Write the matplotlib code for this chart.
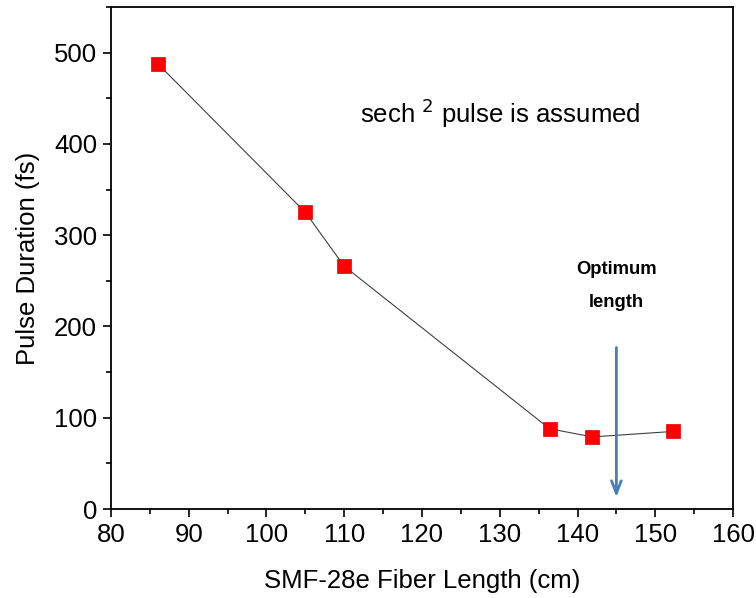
import matplotlib
matplotlib.use("Agg")
import matplotlib.pyplot as plt
from matplotlib.ticker import MultipleLocator

plt.rcParams['font.family'] = ['Liberation Sans', 'DejaVu Sans']

fiber_length = [86.0, 105.0, 110.0, 136.4, 141.9, 152.3]
pulse_duration = [488, 325, 266, 88, 79, 85]
arrow_x = 145
arrow_y_start = 180
arrow_y_end = 10

fig = plt.figure(figsize=(7.56, 5.98), dpi=100)
ax = fig.add_axes([0.1468, 0.1488, 0.8228, 0.8395])

ax.plot(fiber_length, pulse_duration, color='#404040', lw=0.8, zorder=2)
ax.plot(fiber_length, pulse_duration, ls='none', marker='s', ms=10,
        mfc='#ff0000', mec='#e00000', mew=0.5, zorder=3)

ax.annotate('', xy=(arrow_x, arrow_y_end), xytext=(arrow_x, arrow_y_start),
            arrowprops=dict(arrowstyle='->,head_length=0.9,head_width=0.35',
                            color='#4a7ebb', lw=2))

ax.text(145, 262, 'Optimum', ha='center', va='center', fontsize=13.3, fontweight='bold')
ax.text(145, 226, 'length', ha='center', va='center', fontsize=13.3, fontweight='bold')
ax.text(130.1, 434, r'sech $^{2}$ pulse is assumed', ha='center', va='center', fontsize=18.5)

ax.set_xlim(80, 160)
ax.set_ylim(0, 550)
ax.xaxis.set_major_locator(MultipleLocator(10))
ax.xaxis.set_minor_locator(MultipleLocator(5))
ax.yaxis.set_major_locator(MultipleLocator(100))
ax.yaxis.set_minor_locator(MultipleLocator(50))
ax.tick_params(which='major', direction='out', length=6, width=1.2, labelsize=18.5, pad=4)
ax.tick_params(which='minor', direction='out', length=3.5, width=1.2)
for s in ax.spines.values():
    s.set_linewidth(1.3)

ax.set_xlabel('SMF-28e Fiber Length (cm)', fontsize=18.5, labelpad=16)
ax.set_ylabel('Pulse Duration (fs)', fontsize=18.5, labelpad=10)

fig.savefig('out.png', dpi=100)
